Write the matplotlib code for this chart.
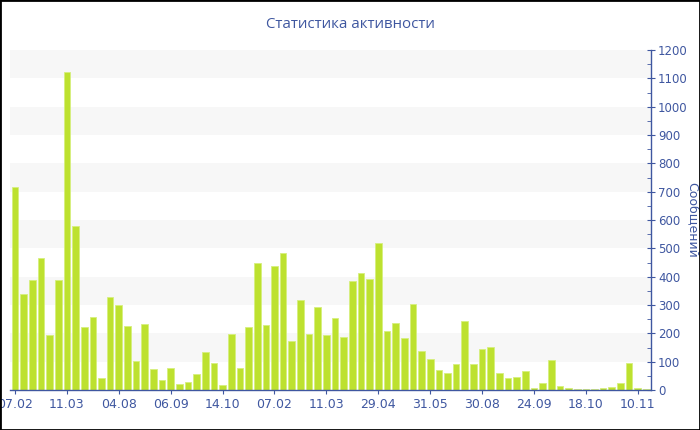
import numpy as np
import matplotlib.pyplot as plt
from matplotlib.patches import Rectangle
from matplotlib.ticker import MultipleLocator

# Data
messages = [718, 339, 388, 466, 193, 388, 1123, 579, 221, 256,
            42, 329, 299, 225, 102, 234, 73, 35, 76, 20,
            28, 56, 134, 95, 16, 197, 76, 222, 447, 228,
            436, 482, 173, 316, 199, 292, 193, 253, 188, 385,
            413, 392, 520, 208, 236, 184, 302, 138, 108, 71,
            59, 93, 244, 91, 146, 151, 60, 41, 47, 66,
            6, 24, 106, 14, 6, 5, 5, 5, 6, 9,
            26, 94, 6, 5]
tick_labels = ['07.02', '11.03', '04.08', '06.09', '14.10', '07.02', '11.03',
               '29.04', '31.05', '30.08', '24.09', '18.10', '10.11']
tick_step = 6

title = 'Статистика активности'
ylabel = 'Сообщений'

text_color = '#3f57a0'
bar_color = '#bde12f'
band_color = '#f7f7f7'

fig = plt.figure(figsize=(7, 4.3), dpi=100)
ax = fig.add_axes([10 / 700, 40 / 430, 641 / 700, 340 / 430])

x = np.arange(len(messages))

# alternating background bands
for lo in range(100, 1200, 200):
    ax.axhspan(lo, lo + 100, color=band_color, zorder=0, lw=0)

ax.bar(x, messages, width=0.77, color=bar_color, edgecolor='#d6ef7e',
       linewidth=0.6, zorder=2)

ax.set_xlim(-0.58, 73.53)
ax.set_ylim(0, 1200)

ax.set_xticks(x[::tick_step])
ax.set_xticklabels(tick_labels)

ax.yaxis.tick_right()
ax.yaxis.set_label_position('right')
ax.yaxis.set_major_locator(MultipleLocator(100))
ax.yaxis.set_minor_locator(MultipleLocator(50))

for side in ['top', 'left']:
    ax.spines[side].set_visible(False)
for side in ['right', 'bottom']:
    ax.spines[side].set_color(text_color)
    ax.spines[side].set_linewidth(1)

ax.tick_params(axis='y', which='major', direction='inout', length=6,
               color=text_color, labelcolor=text_color, labelsize=8.5, pad=2)
ax.tick_params(axis='y', which='minor', direction='in', length=3,
               color=text_color)
ax.tick_params(axis='x', direction='out', length=3, color=text_color,
               labelcolor=text_color, labelsize=9, pad=3)

ax.set_ylabel(ylabel, color=text_color, fontsize=9, rotation=270)
ax.yaxis.label.set_verticalalignment('center')
ax.yaxis.label.set_horizontalalignment('center')
ax.yaxis.set_label_coords((692 - 10) / 641, (390 - 220) / 340)

fig.text(0.5, 1 - 25 / 430, title, ha='center', va='center',
         color=text_color, fontsize=10.8, family='Open Sans')

# border around the picture
fig.patches.append(Rectangle((0, 0), 1, 1, transform=fig.transFigure,
                             fill=False, edgecolor='black', linewidth=2))

fig.savefig('out.png', dpi=100)
